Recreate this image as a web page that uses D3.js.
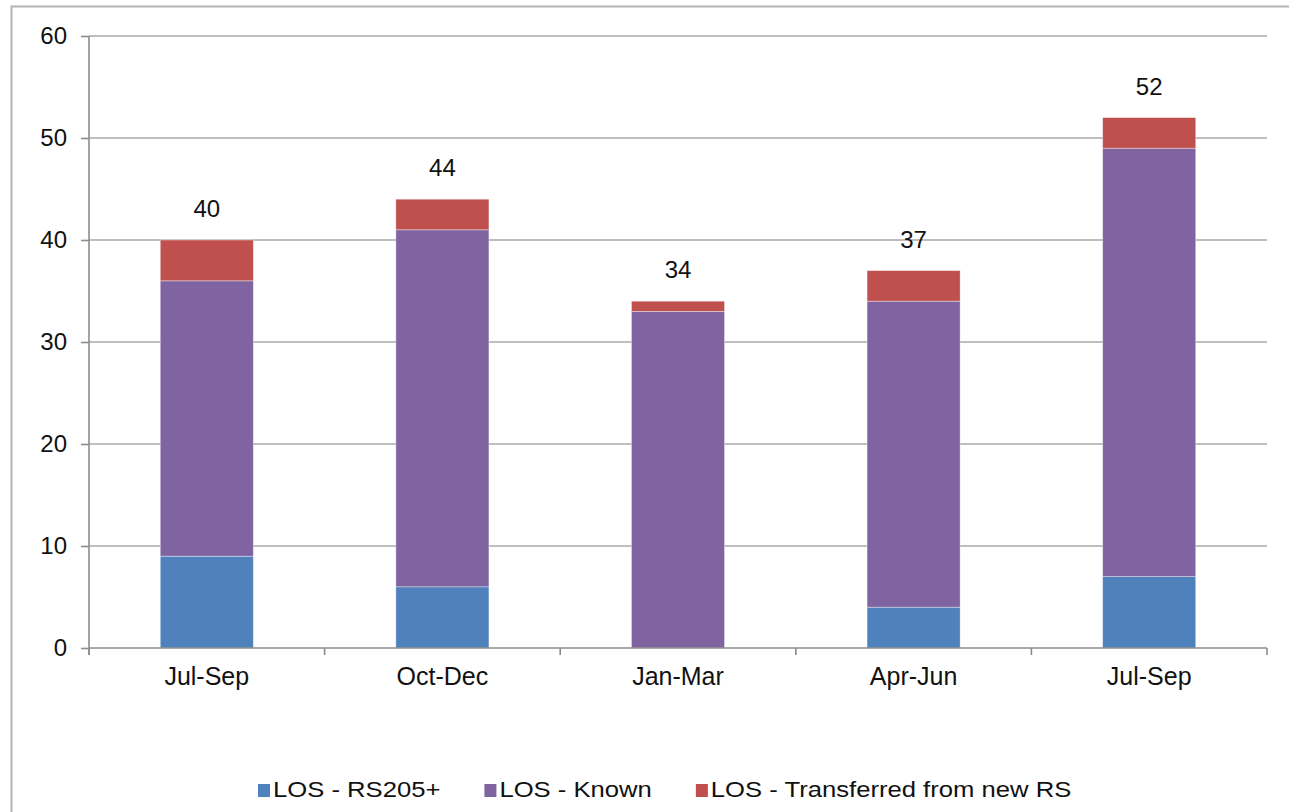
<!DOCTYPE html>
<html>
<head>
<meta charset="utf-8">
<script src="https://cdn.jsdelivr.net/npm/d3@7"></script>
<style>
  body { margin: 0; background: #fff; }
  text { font-family: "Liberation Sans", Arial, sans-serif; fill: #111; }
</style>
</head>
<body>
<div id="vis"></div>
<script>
// data
var quarters = ["Jul-Sep", "Oct-Dec", "Jan-Mar", "Apr-Jun", "Jul-Sep"];
var rs205 = [9, 6, 0, 4, 7];
var known = [27, 35, 33, 30, 42];
var transferred = [4, 3, 1, 3, 3];
var seriesNames = ["LOS - RS205+", "LOS - Known", "LOS - Transferred from new RS"];
var seriesColors = ["#4f81bd", "#8064a2", "#c0504d"];
var yTicks = [0, 10, 20, 30, 40, 50, 60];

var theMargins = { top: 36, right: 22, bottom: 164, left: 89 };
var W = 1289, H = 812;
var width = W - theMargins.left - theMargins.right;
var height = H - theMargins.top - theMargins.bottom;

var rows = quarters.map(function(q, i) {
    return { idx: i, q: q, rs: rs205[i], known: known[i], tr: transferred[i] };
});
var stack = d3.stack().keys(["rs", "known", "tr"])(rows);

var x = d3.scaleBand()
    .domain(d3.range(quarters.length))
    .range([0, width])
    .paddingInner(0.605)
    .paddingOuter(0.3025);

var y = d3.scaleLinear()
    .domain([0, 60])
    .range([height, 0]);

var svg = d3.select('#vis').append('svg')
    .attr("width", W)
    .attr("height", H);

// outer frame
svg.append("rect")
    .attr("x", 11.5).attr("y", 6.5)
    .attr("width", W + 20).attr("height", H + 20)
    .attr("fill", "none")
    .attr("stroke", "#b4b4b4")
    .attr("stroke-width", 2);

var vis = svg.append('g')
    .attr("transform", "translate(" + theMargins.left + "," + theMargins.top + ")");

// gridlines
vis.selectAll(".grid")
    .data(yTicks.filter(function(d) { return d > 0; }))
    .enter().append("line")
    .attr("class", "grid")
    .attr("x1", 0).attr("x2", width)
    .attr("y1", function(d) { return y(d); })
    .attr("y2", function(d) { return y(d); })
    .attr("stroke", "#a8a8a8")
    .attr("stroke-width", 1.6);

// bars
vis.selectAll(".layer")
    .data(stack)
    .enter().append("g")
    .attr("class", "layer")
    .attr("fill", function(d, i) { return seriesColors[i]; })
    .selectAll("rect")
    .data(function(d) { return d; })
    .enter().append("rect")
    .attr("x", function(d) { return x(d.data.idx); })
    .attr("width", x.bandwidth())
    .attr("y", function(d) { return y(d[1]); })
    .attr("height", function(d) { return y(d[0]) - y(d[1]); })
    .attr("stroke", "rgba(255,255,255,0.45)")
    .attr("stroke-width", function(d) { return d[1] > d[0] ? 0.8 : 0; });

// totals
vis.selectAll(".total")
    .data(rows)
    .enter().append("text")
    .attr("class", "total")
    .attr("x", function(d) { return x(d.idx) + x.bandwidth() / 2; })
    .attr("y", function(d) { return y(d.rs + d.known + d.tr) - 23; })
    .attr("text-anchor", "middle")
    .style("font-size", "24px")
    .text(function(d) { return d.rs + d.known + d.tr; });

// y axis
var yAxis = d3.axisLeft(y)
    .tickValues(yTicks)
    .tickSize(8)
    .tickPadding(14)
    .tickSizeOuter(0);

var yg = vis.append("g")
    .attr("class", "theYAxis")
    .call(yAxis);
yg.select(".domain").remove();
yg.selectAll(".tick line").attr("stroke", "#8c8c8c").attr("stroke-width", 1.6);
yg.selectAll(".tick text").style("font-size", "24px").attr("fill", "#111");

vis.append("line")
    .attr("x1", 0).attr("x2", 0)
    .attr("y1", 0).attr("y2", height + 7)
    .attr("stroke", "#8c8c8c").attr("stroke-width", 1.6);

// x axis
var step = x.step();
var bounds = d3.range(quarters.length + 1).map(function(i) {
    return i < quarters.length ? x(i) - step * x.paddingInner() / 2 : width;
});

var xg = vis.append("g")
    .attr("class", "theXAxis")
    .attr("transform", "translate(0," + height + ")");
xg.append("line")
    .attr("x1", 0).attr("x2", width)
    .attr("stroke", "#8c8c8c").attr("stroke-width", 1.6);
xg.selectAll(".xtick")
    .data(bounds)
    .enter().append("line")
    .attr("class", "xtick")
    .attr("x1", function(d) { return d; })
    .attr("x2", function(d) { return d; })
    .attr("y1", 0).attr("y2", 7)
    .attr("stroke", "#8c8c8c").attr("stroke-width", 1.6);
xg.selectAll(".xlabel")
    .data(rows)
    .enter().append("text")
    .attr("class", "xlabel")
    .attr("x", function(d) { return x(d.idx) + x.bandwidth() / 2; })
    .attr("y", 37)
    .attr("text-anchor", "middle")
    .style("font-size", "25px")
    .text(function(d) { return d.q; });

// legend (text in the original is a bit stretched sideways)
var stretch = 1.14;
var legend = svg.append("g").attr("transform", "translate(258,797)");
var lx = 0;
seriesNames.forEach(function(name, i) {
    legend.append("rect")
        .attr("x", lx).attr("y", -13)
        .attr("width", 12).attr("height", 13)
        .attr("fill", seriesColors[i]);
    var t = legend.append("text")
        .attr("transform", "translate(" + (lx + 15) + ",0) scale(" + stretch + ",1)")
        .style("font-size", "22.5px")
        .text(name);
    lx += 15 + t.node().getComputedTextLength() * stretch + 44;
});
</script>
</body>
</html>
